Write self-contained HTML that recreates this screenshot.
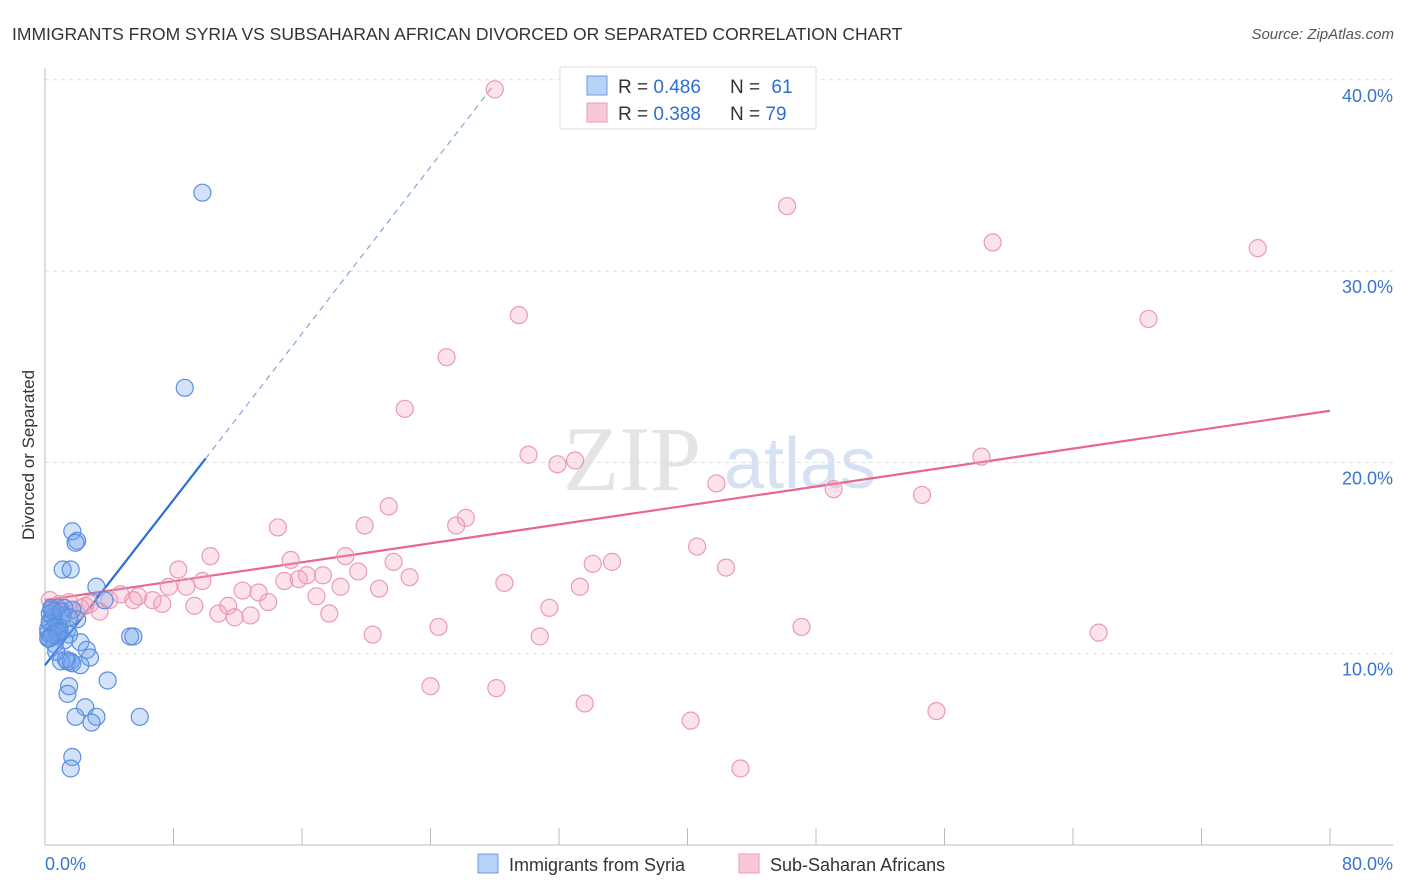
<!DOCTYPE html>
<html><head><meta charset="utf-8"><style>
body{margin:0;background:#fff;font-family:"Liberation Sans",sans-serif;}
svg{display:block}
</style></head><body>
<svg id="chart" width="1406" height="892" viewBox="0 0 1406 892">
<text x="12" y="40" font-size="17.5" fill="#333">IMMIGRANTS FROM SYRIA VS SUBSAHARAN AFRICAN DIVORCED OR SEPARATED CORRELATION CHART</text>
<text x="1394" y="39" font-size="15" fill="#555" font-style="italic" text-anchor="end">Source: ZipAtlas.com</text>
<text transform="translate(34,455) rotate(-90)" font-size="17" fill="#333" text-anchor="middle">Divorced or Separated</text>
<g>
<text x="632" y="490" font-size="92" fill="#e4e4e4" font-family="Liberation Serif,serif" text-anchor="middle">ZIP</text>
<text x="800" y="488" font-size="72" fill="#d6e2f3" text-anchor="middle">atlas</text>
</g>
<g id="grid"></g>
<g id="axes"></g>
<g id="lines"></g>
<g id="points"></g>
<g>
<rect x="560" y="67" width="256" height="62" fill="#fff" stroke="#ddd"/>
<rect x="587" y="76" width="20" height="19" fill="#b8d2f5" stroke="#6c9be0"/>
<rect x="587" y="103" width="20" height="19" fill="#f9c8d7" stroke="#ea9ab4"/>
<text x="618" y="93" font-size="19" fill="#333">R = <tspan fill="#2f6fd0">0.486</tspan></text>
<text x="730" y="93" font-size="19" fill="#333">N = <tspan fill="#2f6fd0" dx="6">61</tspan></text>
<text x="618" y="120" font-size="19" fill="#333">R = <tspan fill="#2f6fd0">0.388</tspan></text>
<text x="730" y="120" font-size="19" fill="#333">N = <tspan fill="#2f6fd0">79</tspan></text>
</g>
<g>
<rect x="478" y="854" width="20" height="19" fill="#b8d2f5" stroke="#6c9be0"/>
<text x="509" y="871" font-size="18" fill="#333">Immigrants from Syria</text>
<rect x="739" y="854" width="20" height="19" fill="#f9c8d7" stroke="#ea9ab4"/>
<text x="770" y="871" font-size="18" fill="#333">Sub-Saharan Africans</text>
</g>
</svg>
<script>
const yTicks=[10,20,30,40];
const yTickLabels=["10.0%","20.0%","30.0%","40.0%"];
const xTickLabels=["0.0%","80.0%"];
const syriaX=[9.8,8.7,1.7,2.0,1.9,1.1,1.6,3.2,3.7,0.4,0.8,1.2,1.7,0.3,0.6,0.9,1.4,0.2,1.5,5.3,5.5,2.2,2.6,2.8,1.0,1.4,1.7,2.2,1.6,3.9,1.5,1.4,2.5,1.9,3.2,2.9,5.9,1.7,1.6,0.3,0.5,0.7,0.2,0.4,0.9,1.2,0.5,0.3,0.8,1.1,0.6,0.4,2.0,1.3,0.7,0.2,0.5,1.0,0.8,0.3,1.5];
const syriaY=[34.1,23.9,16.4,15.9,15.8,14.4,14.4,13.5,12.8,12.4,12.4,12.4,12.3,11.7,11.4,11.4,11.3,11.1,11.0,10.9,10.9,10.6,10.2,9.8,9.6,9.6,9.5,9.4,9.6,8.6,8.3,7.9,7.2,6.7,6.7,6.4,6.7,4.6,4.0,12.1,11.9,11.0,10.8,10.9,11.2,10.7,12.2,11.6,11.5,12.0,10.5,12.3,11.8,9.7,10.1,11.3,11.0,12.2,11.1,10.8,11.9];
const ssaX=[28.0,46.2,59.0,75.5,29.5,68.7,25.0,22.4,30.1,31.9,33.0,58.3,41.8,49.1,54.6,21.4,26.2,25.6,19.9,14.5,10.3,18.7,15.3,21.7,40.6,34.1,35.3,8.3,42.4,17.3,16.3,19.5,22.7,14.9,15.8,28.6,9.8,7.7,8.8,18.4,20.8,33.3,12.3,13.3,16.9,4.7,5.8,6.7,5.5,11.4,13.9,9.3,7.3,31.4,10.8,11.8,12.8,17.7,47.1,24.5,65.6,20.4,30.8,24.0,28.1,33.6,55.5,40.2,43.3,0.3,0.9,1.5,2.2,2.8,3.4,4.0,0.6,1.9,2.5];
const ssaY=[39.5,33.4,31.5,31.2,27.7,27.5,25.5,22.8,20.4,19.9,20.1,20.3,18.9,18.6,18.3,17.7,17.1,16.7,16.7,16.6,15.1,15.1,14.9,14.8,15.6,14.7,14.8,14.4,14.5,14.1,14.1,14.3,14.0,13.8,13.9,13.7,13.8,13.5,13.5,13.5,13.4,13.5,13.3,13.2,13.0,13.1,13.0,12.8,12.8,12.5,12.7,12.5,12.6,12.4,12.1,11.9,12.0,12.1,11.4,11.4,11.1,11.0,10.9,8.3,8.2,7.4,7.0,6.5,4.0,12.8,12.6,12.7,12.4,12.6,12.2,12.8,12.3,12.2,12.5];
const syriaLine=[[0,9.4],[10,20.2]];
const syriaLineDash=[[10,20.2],[28,39.8]];
const ssaLine=[[0,12.8],[80,22.7]];
const NS="http://www.w3.org/2000/svg";
const X=v=>45+v*(1285/80);
const Y=v=>845-v*19.13;
function mk(tag,attrs,parent){const e=document.createElementNS(NS,tag);for(const k in attrs)e.setAttribute(k,attrs[k]);parent.appendChild(e);return e;}
const grid=document.getElementById('grid'),axes=document.getElementById('axes'),lines=document.getElementById('lines'),pts=document.getElementById('points');
yTicks.forEach((t,i)=>{
 const l=mk('line',{x1:45,x2:1393,y1:Y(t),y2:Y(t),stroke:'#ddd','stroke-dasharray':'4,4'},grid);
 
 
 const tx=mk('text',{x:1393,y:Y(t)+22,'font-size':18,fill:'#3a74cf','text-anchor':'end'},axes);
 tx.textContent=yTickLabels[i];
 
 
});
const ya=mk('line',{x1:45,x2:45,y1:68,y2:845,stroke:'#bbb'},axes);


const xa=mk('line',{x1:45,x2:1393,y1:845,y2:845,stroke:'#bbb'},axes);


for(let i=1;i<=10;i++){
 const t=mk('line',{x1:X(i*8),x2:X(i*8),y1:828,y2:845,stroke:'#bbb'},axes);
 
 
}
[[0,45,'start'],[80,1393,'end']].forEach((d,i)=>{
 const tx=mk('text',{x:d[1],y:870,'font-size':18,fill:'#3a74cf','text-anchor':d[2]},axes);
 tx.textContent=xTickLabels[i];
 
 
});
const sl=mk('line',{x1:X(syriaLine[0][0]),y1:Y(syriaLine[0][1]),x2:X(syriaLine[1][0]),y2:Y(syriaLine[1][1]),stroke:'#2a6fd6','stroke-width':2.2},lines);


const sd=mk('line',{x1:X(syriaLineDash[0][0]),y1:Y(syriaLineDash[0][1]),x2:X(syriaLineDash[1][0]),y2:Y(syriaLineDash[1][1]),stroke:'#7ea6e0','stroke-width':1.2,'stroke-dasharray':'6,5'},lines);


const pl=mk('line',{x1:X(ssaLine[0][0]),y1:Y(ssaLine[0][1]),x2:X(ssaLine[1][0]),y2:Y(ssaLine[1][1]),stroke:'#e8668f','stroke-width':2.2},lines);


ssaX.forEach((x,i)=>{
 const c=mk('circle',{cx:X(x),cy:Y(ssaY[i]),r:8.5,fill:'rgba(244,160,188,0.3)',stroke:'#ea9ab4','stroke-width':1.2},pts);
 
 
});
syriaX.forEach((x,i)=>{
 const c=mk('circle',{cx:X(x),cy:Y(syriaY[i]),r:8.5,fill:'rgba(110,158,235,0.3)',stroke:'#5a8ede','stroke-width':1.2},pts);
 
 
});
</script>
</body></html>
